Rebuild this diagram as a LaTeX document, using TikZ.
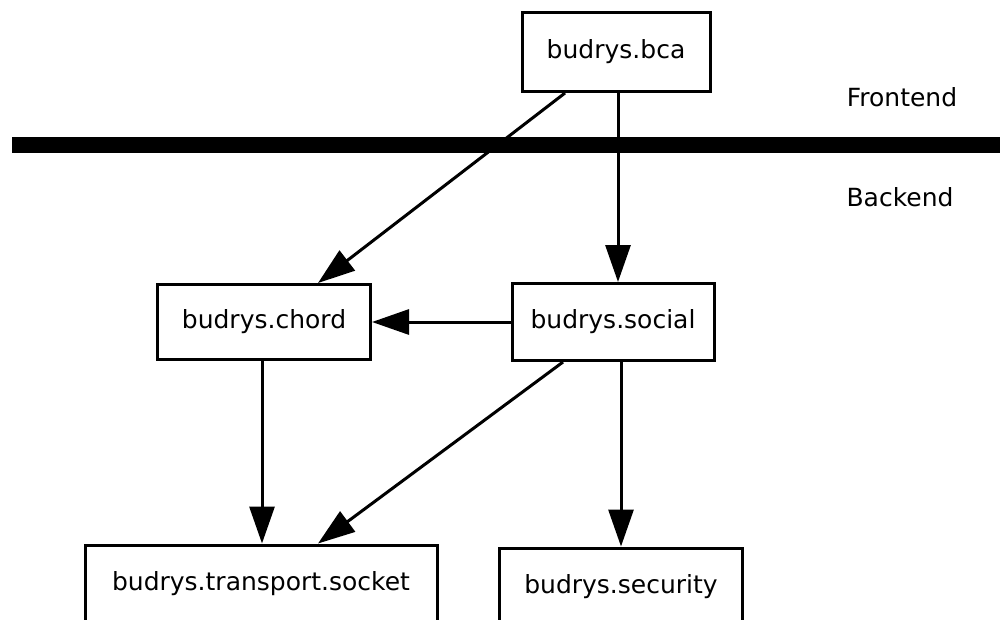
\documentclass[tikz,border=0pt]{standalone}
\usepackage{fontspec}
\setmainfont{DejaVu Sans}
\usetikzlibrary{arrows.meta,calc}
\begin{document}
\begin{tikzpicture}[x=1pt,y=-1pt,
  modbox/.style={draw,line width=3pt,fill=white,inner sep=0pt,font=\fontsize{25}{30}\selectfont},
  dep/.style={line width=3pt,-{Triangle[length=37pt,width=25pt]}},
  lbl/.style={font=\fontsize{25}{30}\selectfont,inner sep=0pt}]
\useasboundingbox (0,0) rectangle (1000,619);
\clip (0,0) rectangle (1000,619);
\draw[line width=16pt] (12,145) coordinate (ls) -- (1000,145) coordinate (le);
\node[lbl] (fe) at (902,97) {Frontend};
\node[lbl] (be) at (900,197) {Backend};
\node[modbox,minimum width=188pt,minimum height=79pt] (bca) at (616,52) {budrys.bca};
\node[modbox,minimum width=213pt,minimum height=75pt] (chord) at (264,322) {budrys.chord};
\node[modbox,minimum width=202pt,minimum height=77pt] (social) at (613,322) {budrys.social};
\node[modbox,minimum width=352pt,minimum height=78pt] (transport) at (261,584) {budrys.transport.socket};
\node[modbox,minimum width=243pt,minimum height=78pt] (security) at (621,587) {budrys.security};
\draw[dep] ([xshift=-51pt]bca.south) -- ([xshift=54pt]chord.north);
\draw[dep] ([xshift=2pt]bca.south) -- ([xshift=2pt]bca.south |- social.north);
\draw[dep] (social.west) -- (chord.east);
\draw[dep] ([xshift=-2pt]chord.south) -- ([xshift=-2pt]chord.south |- transport.north);
\draw[dep] ([xshift=-50pt]social.south) -- ([xshift=57pt]transport.north);
\draw[dep] (security.north |- social.south) -- (security.north);
\end{tikzpicture}
\end{document}
